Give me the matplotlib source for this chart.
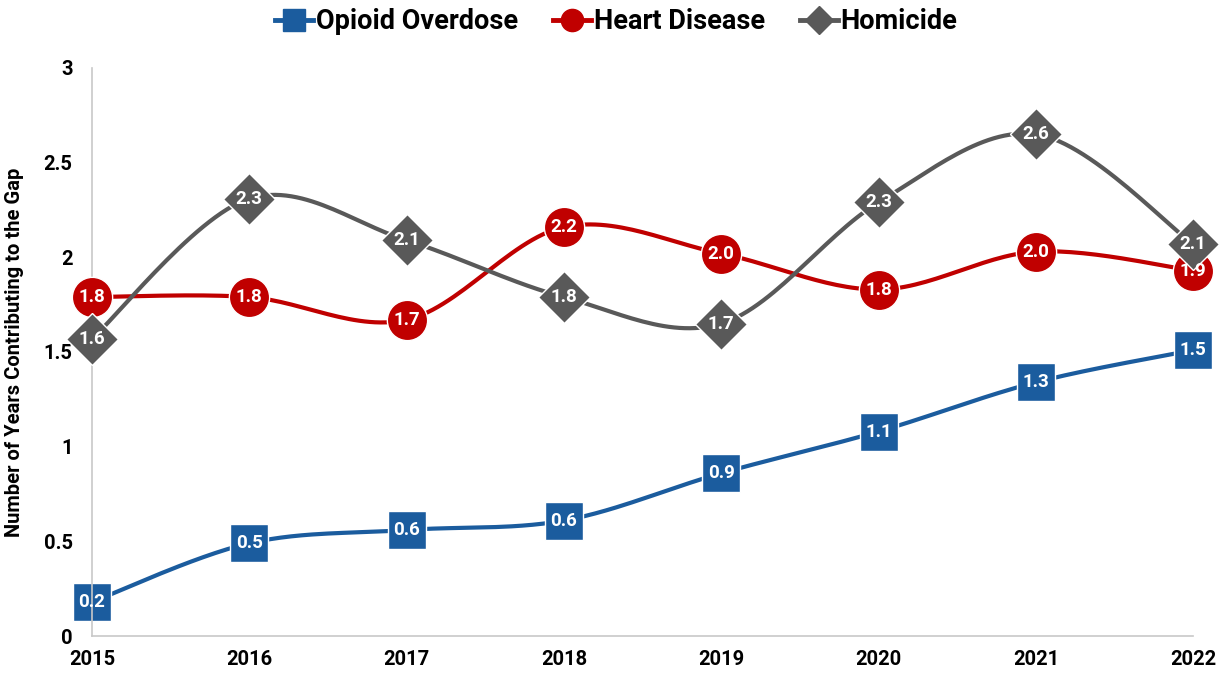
import numpy as np
import matplotlib
matplotlib.use("Agg")
import matplotlib.pyplot as plt
from matplotlib.lines import Line2D

plt.rcParams['font.family'] = ['Roboto', 'DejaVu Sans']
plt.rcParams['font.weight'] = 'bold'

years = [2015, 2016, 2017, 2018, 2019, 2020, 2021, 2022]
opioid = [0.18, 0.49, 0.56, 0.61, 0.86, 1.08, 1.34, 1.51]
heart = [1.79, 1.79, 1.67, 2.16, 2.02, 1.83, 2.03, 1.93]
homicide = [1.57, 2.31, 2.09, 1.79, 1.65, 2.29, 2.65, 2.07]
opioid_lbl = ["0.2", "0.5", "0.6", "0.6", "0.9", "1.1", "1.3", "1.5"]
heart_lbl = ["1.8", "1.8", "1.7", "2.2", "2.0", "1.8", "2.0", "1.9"]
homicide_lbl = ["1.6", "2.3", "2.1", "1.8", "1.7", "2.3", "2.6", "2.1"]
series_names = ["Opioid Overdose", "Heart Disease", "Homicide"]
yticks = [0, 0.5, 1, 1.5, 2, 2.5, 3]
ytick_lbl = ["0", "0.5", "1", "1.5", "2", "2.5", "3"]

colors = ["#1B5C9E", "#C00000", "#595959"]
markers = ["s", "o", "D"]
msizes = [28, 29, 26]


def smooth(x, y, n=30, tension=0.5):
    x = np.asarray(x, float)
    y = np.asarray(y, float)
    xs, ys = [], []
    for i in range(len(x) - 1):
        p0 = (x[i - 1] if i > 0 else x[i], y[i - 1] if i > 0 else y[i])
        p1 = (x[i], y[i])
        p2 = (x[i + 1], y[i + 1])
        p3 = (x[i + 2], y[i + 2]) if i + 2 < len(x) else p2
        m1 = ((p2[0] - p0[0]) * tension, (p2[1] - p0[1]) * tension)
        m2 = ((p3[0] - p1[0]) * tension, (p3[1] - p1[1]) * tension)
        t = np.linspace(0, 1, n, endpoint=(i == len(x) - 2))
        h00 = 2 * t**3 - 3 * t**2 + 1
        h10 = t**3 - 2 * t**2 + t
        h01 = -2 * t**3 + 3 * t**2
        h11 = t**3 - t**2
        xs.append(h00 * p1[0] + h10 * m1[0] + h01 * p2[0] + h11 * m2[0])
        ys.append(h00 * p1[1] + h10 * m1[1] + h01 * p2[1] + h11 * m2[1])
    return np.concatenate(xs), np.concatenate(ys)


fig = plt.figure(figsize=(12.25, 6.79), dpi=100)
ax = fig.add_axes([0.0751, 0.0633, 0.974 - 0.0751, 0.8999 - 0.0633])

all_vals = [opioid, heart, homicide]
all_lbls = [opioid_lbl, heart_lbl, homicide_lbl]
handles = []
for k, (vals, lbls) in enumerate(zip(all_vals, all_lbls)):
    sx, sy = smooth(years, vals)
    ax.plot(sx, sy, color=colors[k], lw=3.0, clip_on=False, zorder=2 + k,
            solid_capstyle='round')
    ax.plot(years, vals, linestyle='none', marker=markers[k], ms=msizes[k],
            color=colors[k], mec='white', mew=1.0, clip_on=False, zorder=2 + k)
    for xv, yv, t in zip(years, vals, lbls):
        ax.text(xv, yv, t, color='white', fontsize=13.5, fontweight='bold',
                ha='center', va='center', zorder=5 + k)
    handles.append(Line2D([0], [0], color=colors[k], lw=3.5, marker=markers[k],
                          ms=16 if k < 2 else 14, mec=colors[k]))

ax.set_xlim(2015, 2022)
ax.set_ylim(0, 3)
ax.set_xticks(years)
ax.set_xticklabels([str(y) for y in years], fontsize=14.5, fontweight='bold')
ax.set_yticks(yticks)
ax.set_yticklabels(ytick_lbl, fontsize=14.5, fontweight='bold')
ax.tick_params(length=0)
ax.tick_params(axis='x', pad=10)
ax.tick_params(axis='y', pad=14)
for s in ['top', 'right']:
    ax.spines[s].set_visible(False)
for s in ['left', 'bottom']:
    ax.spines[s].set_color('#C8C8C8')
    ax.spines[s].set_linewidth(1.2)
ax.set_ylabel("Number of Years Contributing to the Gap", fontsize=14.5,
              fontweight='bold')
ax.yaxis.set_label_coords(-0.062, 0.5)

fig.legend(handles, series_names, loc='center', bbox_to_anchor=(0.503, 0.968),
           ncol=3, frameon=False, prop={'weight': 'bold', 'size': 19.5},
           handlelength=1.4, handletextpad=0.1, columnspacing=1.3)

fig.savefig("out.png", dpi=100)
